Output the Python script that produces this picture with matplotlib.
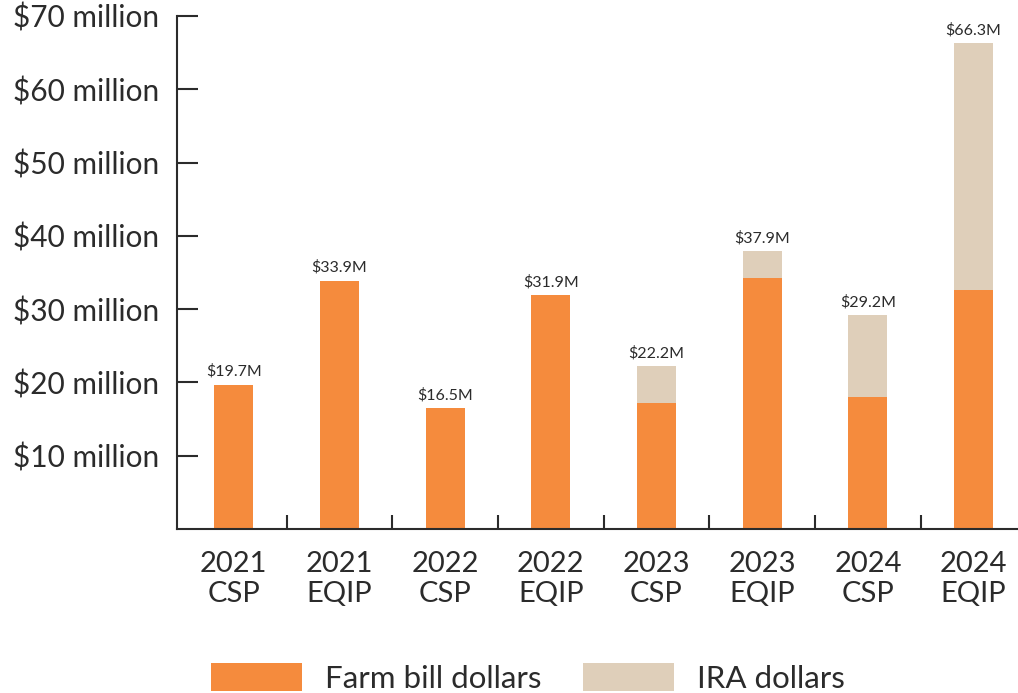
import matplotlib.pyplot as plt
import numpy as np

categories = ["2021\nCSP", "2021\nEQIP", "2022\nCSP", "2022\nEQIP",
              "2023\nCSP", "2023\nEQIP", "2024\nCSP", "2024\nEQIP"]
farm_bill = [19.7, 33.9, 16.5, 31.9, 17.2, 34.2, 18.0, 32.6]
ira = [0.0, 0.0, 0.0, 0.0, 5.0, 3.7, 11.2, 33.7]
totals = ["$19.7M", "$33.9M", "$16.5M", "$31.9M", "$22.2M", "$37.9M", "$29.2M", "$66.3M"]
y_ticks = [10, 20, 30, 40, 50, 60, 70]

ORANGE = "#F58B3D"
BEIGE = "#DFCFBA"
DARK = "#2b2b2b"

plt.rcParams["font.family"] = ["Lato", "DejaVu Sans"]

fig = plt.figure(figsize=(10.18, 6.93), dpi=100)
ax = fig.add_axes([0.174, 0.2366, 0.826, 0.7404])

x = np.arange(len(categories))
width = 0.37
farm = np.array(farm_bill)
b1 = ax.bar(x, farm, width, color=ORANGE, label="Farm bill dollars")
b2 = ax.bar(x, ira, width, bottom=farm, color=BEIGE, label="IRA dollars")

for xi, top, txt in zip(x, farm + np.array(ira), totals):
    ax.text(xi, top + 0.8, txt, ha="center", va="bottom", fontsize=11.5, color=DARK)

ax.set_xlim(-0.535, 7.42)
ax.set_ylim(0, 70)

ax.set_yticks(y_ticks)
ax.set_yticklabels([f"${v} million" for v in y_ticks], fontsize=21.5, color=DARK,
                   va="center_baseline")
ax.tick_params(axis="y", direction="in", length=15, width=1.5, color=DARK, pad=13)

ax.set_xticks(x[:-1] + 0.5)
ax.set_xticklabels([])
ax.tick_params(axis="x", direction="in", length=10, width=1.5, color=DARK)
for xi, lab in zip(x, categories):
    ax.text(xi, -3.0, lab, ha="center", va="top", fontsize=21, color=DARK,
            linespacing=1.2, transform=ax.transData)

for side in ["top", "right"]:
    ax.spines[side].set_visible(False)
for side in ["left", "bottom"]:
    ax.spines[side].set_linewidth(1.5)
    ax.spines[side].set_color(DARK)

fig.legend(handles=[b1, b2], loc="center", bbox_to_anchor=(528 / 1018, 1 - 678 / 693),
           ncol=2, frameon=False, fontsize=22.5, handlelength=2.9, handleheight=0.96,
           handletextpad=0.74, columnspacing=1.34, borderpad=0, labelcolor=DARK)

fig.savefig("out.png", dpi=100)
